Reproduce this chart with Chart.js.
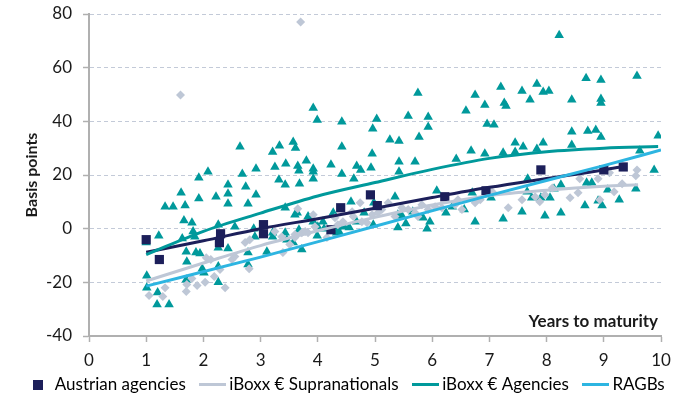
<!DOCTYPE html>
<html><head><meta charset="utf-8">
<script src="https://cdn.jsdelivr.net/npm/chart.js@4/dist/chart.umd.min.js"></script>
<style>html,body{margin:0;padding:0;background:#fff;}canvas{display:block;}</style>
</head><body>
<canvas id="c" width="673" height="400"></canvas>
<script>
const seriesNames = ['Austrian agencies','iBoxx € Supranationals','iBoxx € Agencies','RAGBs'];
const xAxisTitle = 'Years to maturity';
const yAxisTitle = 'Basis points';
const xTickValues = [0,1,2,3,4,5,6,7,8,9,10];
const yTickValues = [-40,-20,0,20,40,60,80];

// Austrian agencies (squares)
const austX = [1.0,1.23,2.3,2.28,3.05,3.05,4.23,4.4,4.92,5.04,6.22,6.94,7.9,9.0,9.34];
const austY = [-4.1,-11.5,-1.9,-5.2,1.5,-1.9,-0.4,7.8,12.6,8.6,11.9,14.1,21.9,21.9,23.0];

// iBoxx € Supranationals (diamonds)
const supraX = [1.6,3.7,1.05,1.29,1.33,1.7,1.71,1.89,1.8,2.03,2.05,2.19,2.13,2.38,2.29,2.5,2.55,2.8,2.73,2.81,
  3.25,3.37,3.39,3.51,3.6,3.65,3.72,3.6,3.83,3.95,3.92,3.78,4.16,4.3,4.35,4.44,4.6,4.62,4.74,4.77,4.86,4.95,
  5.05,5.12,5.23,5.35,5.47,5.58,5.7,5.75,5.82,5.93,6.05,6.17,6.4,6.45,6.52,6.75,6.84,7.05,7.33,7.57,7.8,7.88,
  7.97,8.1,8.41,8.55,8.58,8.9,8.93,9.1,9.18,9.32,9.56,9.58];
const supraY = [49.8,77,-24.9,-25.3,-22,-23.4,-20.8,-21.2,-18.6,-20,-10.8,-17.8,-11.5,-22,-15.2,-11.5,-10.4,-14.9,-5.2,-4.1,
  -1.1,-3,-8.9,-5.9,-3.3,7.4,-1.5,-2.2,-1.5,0.7,5.2,-1.1,-3.3,4.1,1.5,2.6,6.3,4.5,9.7,2.6,2.2,5.2,
  5.9,7.1,9.7,4.5,7.8,7.1,5.9,4.5,8.9,7.1,8.2,7.8,8.9,10.8,7.1,9.7,10.8,13.8,7.8,10.8,11.9,10,
  12.6,15.2,11.5,13.4,18.6,18.6,10.8,20.8,13.8,16.7,19.7,21.9];

// iBoxx € Agencies (triangles)
const agX = [1.61,1.92,2.08,2.64,2.68,2.74,2.92,2.92,2.43,2.43,2.22,1.92,3.21,3.33,3.25,3.32,3.43,3.44,3.57,3.61,
  3.65,3.67,3.68,3.8,3.92,3.92,3.92,3.92,3.99,4.23,4.42,4.42,4.42,4.63,4.68,4.75,4.93,4.95,4.96,5.03,
  5.26,5.42,5.42,5.42,5.58,5.7,5.75,5.77,5.93,5.93,6.08,6.42,6.59,6.68,6.75,6.92,6.92,6.96,7.08,7.2,
  7.24,7.26,7.29,7.45,7.45,7.57,7.59,7.71,7.83,7.83,7.94,7.94,8.04,8.22,8.44,8.44,8.44,8.69,8.72,8.86,
  8.95,8.95,8.95,8.95,9.58,9.63,9.88,9.95,
  1.33,1.47,1.68,2.43,2.78,1.66,1.8,1.82,1.85,1.22,1.63,1.7,1.87,1.71,1.01,1.01,1.2,1.19,1.4,1.7,
  1.98,2.26,2.26,2.26,2.43,1.0,1.94,2.01,2.88,2.78,2.78,3.11,3.21,3.21,3.43,3.43,3.46,3.57,3.72,3.6,
  3.64,3.67,3.92,4.27,4.33,2.55,2.26,2.9,3.83,3.99,4.0,4.09,4.34,4.46,4.58,4.68,4.81,4.97,4.98,5.35,
  5.4,5.4,5.47,5.54,5.66,5.84,5.91,5.96,6.24,6.35,6.7,6.56,6.75,7.03,7.24,7.57,7.66,7.74,7.9,7.97,
  8.06,8.13,8.25,8.25,7.67,8.7,8.79,9.07,9.56,8.9,9.27,8.67,8.97,4.11,4.37,4.55];
const agY = [13.4,19,21.2,30.5,20.4,15.6,22.3,12.6,16.4,13,11.9,11.2,28.6,30.9,23,18.2,16.4,24.2,32.3,30.1,
  23.4,21.6,16.7,25.3,22.3,21.2,18.6,45,40.5,23.8,39.8,30.5,20.4,18.6,23.4,21.9,22.7,27.9,37.2,40.9,
  33.1,32.7,24.9,21.2,42,24.9,50.6,34.2,41.6,37.9,14.1,26,43.9,29,49.8,46.1,27.9,39,38.7,52.8,
  28.3,46.8,45.7,32,28.6,51.3,30.5,48,53.9,29.7,50.9,32,51.3,72.1,48,36.1,31.2,56.1,36.4,36.8,
  55.4,48.3,46.8,34.2,56.9,29,21.9,34.6,
  8.2,8.2,8.6,9.3,9.3,3,2.2,-1.1,-3,-2.6,-3.7,-8.6,-8.9,-12.3,-17.5,-22,-23.8,-28.3,-28.3,-19,
  -14.9,-7.1,-14.1,-20,-7.4,-5.2,-9.3,-16.4,0,-8.9,-13.4,-8.6,-1.5,-3,-1.5,7.8,-4.1,-5.2,-7.8,5.2,
  5.9,-0.4,2.6,5.9,-1.5,0.7,1.5,-3,4.5,-2.6,0.7,2.6,0.7,0.7,10,2.6,5.9,1.5,9.7,11.9,
  5.2,0.4,4.8,1.9,6.3,4.1,0,2.6,5.9,8.2,13.4,7.1,2.6,11.5,3.7,6.3,13.8,11.5,11.5,4.8,
  11.5,14.9,16.4,5.9,18.6,17.1,17.1,14.5,14.9,10.4,10.8,8.6,8.6,0,-1.1,0.4];

// Trend lines
const austTrendX = [1,2,3,4,5,6,7,8,9,9.35];
const austTrendY = [-8.8,-4.5,0,3.7,7.6,11.6,15.4,18.7,21.9,23.2];
const supraTrendX = [1,2,3,4,5,6,7,8,9,9.6];
const supraTrendY = [-19.5,-12.8,-6.3,-0.8,4.2,8.8,12.3,14.3,15.8,16.4];
const agTrendX = [1,2,3,4,5,6,7,8,9,9.95];
const agTrendY = [-9.7,-1,5.8,12.2,17.2,22.1,26.2,28.7,30,30.6];
const ragbTrendX = [1,3,5,7,9,10];
const ragbTrendY = [-21.4,-10.6,0.9,12.4,23.5,29.3];

const NAVY = '#1c1f5a', GREY = '#bec7d6', TEAL = '#00999b', SKY = '#2db5e1';
const FONT = 'Lato';
const FS = 17;
const pts = (xs, ys) => xs.map((x, i) => ({x, y: ys[i]}));

function swatch(w, h, color) {
  const c = document.createElement('canvas');
  c.width = w; c.height = h;
  const g = c.getContext('2d');
  g.fillStyle = color; g.fillRect(0, 0, w, h);
  return c;
}
const legendStyles = [swatch(10,10,NAVY), swatch(27,3,GREY), swatch(27,3,TEAL), swatch(27,3,SKY)];

const lineDs = (label, xs, ys, color, order) => ({
  type: 'line', label, data: pts(xs, ys), borderColor: color, backgroundColor: color,
  borderWidth: 3, pointRadius: 0, showLine: true, cubicInterpolationMode: 'monotone', order
});

const annot = {
  id: 'annot',
  afterLayout(chart) {
    const lg = chart.legend;
    if (lg) { lg.top -= 14; lg.bottom -= 14; lg.left += 11; lg.right += 11; }
  },
  afterDraw(chart) {
    const {ctx, chartArea} = chart;
    ctx.save();
    ctx.font = 'bold 17px ' + FONT;
    ctx.fillStyle = '#1a1a1a';
    ctx.textAlign = 'right';
    ctx.textBaseline = 'middle';
    ctx.fillText(xAxisTitle, chartArea.right - 3, chartArea.bottom - 14);
    ctx.restore();
  }
};

new Chart(document.getElementById('c'), {
  type: 'scatter',
  data: {
    datasets: [
      lineDs('RAGBs trend', ragbTrendX, ragbTrendY, SKY, 0),
      lineDs('Agencies trend', agTrendX, agTrendY, TEAL, 1),
      lineDs('Supranationals trend', supraTrendX, supraTrendY, GREY, 2),
      lineDs('Austrian trend', austTrendX, austTrendY, NAVY, 3),
      {label: seriesNames[0], data: pts(austX, austY), pointStyle: 'rect', pointRadius: 6.5,
        backgroundColor: NAVY, borderColor: NAVY, borderWidth: 0, order: 4},
      {label: seriesNames[1], data: pts(supraX, supraY), pointStyle: 'rectRot', pointRadius: 4.5,
        backgroundColor: GREY, borderColor: GREY, borderWidth: 0, order: 5},
      {label: seriesNames[2], data: pts(agX, agY), pointStyle: 'triangle', pointRadius: 5.5,
        backgroundColor: TEAL, borderColor: TEAL, borderWidth: 0, order: 6}
    ]
  },
  options: {
    responsive: false,
    animation: false,
    events: [],
    layout: {padding: {left: 0, right: 0, top: 0, bottom: -17}},
    plugins: {
      tooltip: {enabled: false},
      legend: {
        position: 'bottom',
        labels: {
          usePointStyle: true,
          pointStyleWidth: 16,
          padding: 19,
          color: '#1a1a1a',
          font: {family: FONT, size: FS},
          generateLabels: () => seriesNames.map((t, i) => ({
            text: t, pointStyle: legendStyles[i], fillStyle: 'transparent',
            strokeStyle: 'transparent', lineWidth: 0, hidden: false, datasetIndex: i
          }))
        }
      }
    },
    scales: {
      x: {
        type: 'linear', min: 0, max: 10,
        afterBuildTicks: s => { s.ticks = xTickValues.map(v => ({value: v})); },
        afterFit: s => { s.height = 35; s.paddingRight = 12; s.paddingLeft = 0; },
        ticks: {color: '#1a1a1a', font: {family: FONT, size: FS}, padding: 8, maxRotation: 0},
        grid: {drawOnChartArea: false, drawTicks: true, tickLength: 6, tickColor: '#b0b0b0', tickWidth: 1.5},
        border: {display: true, color: '#b0b0b0', width: 2}
      },
      y: {
        type: 'linear', min: -40, max: 80,
        afterBuildTicks: s => { s.ticks = yTickValues.map(v => ({value: v})); },
        afterFit: s => { s.width = 89; s.paddingTop = 14; s.paddingBottom = 0; },
        ticks: {color: '#1a1a1a', font: {family: FONT, size: FS}, padding: 11},
        grid: {color: '#c3cad8', lineWidth: 1, drawTicks: true, tickLength: 6, tickColor: '#b0b0b0', tickWidth: 1.5},
        border: {display: true, color: '#b0b0b0', width: 2, dash: [4, 3]},
        title: {display: true, text: yAxisTitle, color: '#1a1a1a',
          font: {family: FONT, size: 16, weight: 'bold'}, padding: {top: 22, bottom: 0}}
      }
    }
  },
  plugins: [annot]
});
</script>
</body></html>
